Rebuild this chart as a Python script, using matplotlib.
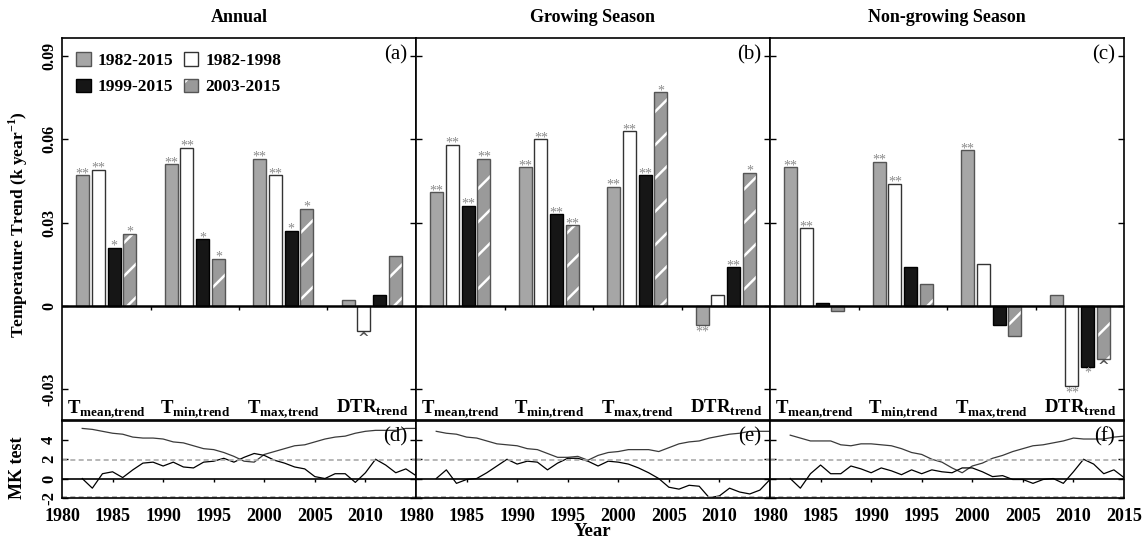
import matplotlib.pyplot as plt
import numpy as np
from matplotlib.patches import Patch

plt.rcParams['font.family'] = 'Liberation Serif'
plt.rcParams['font.weight'] = 'bold'
plt.rcParams['mathtext.fontset'] = 'custom'
plt.rcParams['mathtext.rm'] = 'Liberation Serif:bold'
plt.rcParams['mathtext.bf'] = 'Liberation Serif:bold'
plt.rcParams['hatch.linewidth'] = 1.8
plt.rcParams['axes.linewidth'] = 1.2

# ---- data ----
seasons = ['Annual', 'Growing Season', 'Non-growing Season']
periods = ['1982-2015', '1982-1998', '1999-2015', '2003-2015']
indices = [r'$\mathbf{T}_{\mathbf{mean{,}trend}}$', r'$\mathbf{T}_{\mathbf{min{,}trend}}$',
           r'$\mathbf{T}_{\mathbf{max{,}trend}}$', r'$\mathbf{DTR}_{\mathbf{trend}}$']
panel_top = ['(a)', '(b)', '(c)']
panel_mk = ['(d)', '(e)', '(f)']

# trends (k/year), rows = Tmean, Tmin, Tmax, DTR ; columns = periods
annual = [[0.047, 0.049, 0.021, 0.026],
          [0.051, 0.057, 0.024, 0.017],
          [0.053, 0.047, 0.027, 0.035],
          [0.002, -0.009, 0.004, 0.018]]
annual_sig = [['**', '**', '*', '*'],
              ['**', '**', '*', '*'],
              ['**', '**', '*', '*'],
              ['', '^', '', '']]

growing = [[0.041, 0.058, 0.036, 0.053],
           [0.050, 0.060, 0.033, 0.029],
           [0.043, 0.063, 0.047, 0.077],
           [-0.007, 0.004, 0.014, 0.048]]
growing_sig = [['**', '**', '**', '**'],
               ['**', '**', '**', '**'],
               ['**', '**', '**', '*'],
               ['**', '', '**', '*']]

nongrowing = [[0.050, 0.028, 0.001, -0.002],
              [0.052, 0.044, 0.014, 0.008],
              [0.056, 0.015, -0.007, -0.011],
              [0.004, -0.029, -0.022, -0.019]]
nongrowing_sig = [['**', '**', '', ''],
                  ['**', '**', '', ''],
                  ['**', '', '', ''],
                  ['', '**', '*', '^']]

# Mann-Kendall sequential statistics, 1982-2015
years = np.arange(1982, 2016)
annual_uf = [0, -1.0, 0.5, 0.7, 0.1, 0.9, 1.6, 1.7, 1.3, 1.7, 1.2, 1.1, 1.7, 1.8, 2.1, 1.7, 2.2,
             2.6, 2.4, 1.9, 1.6, 1.2, 1.0, 0.2, 0.0, 0.5, 0.5, -0.4, 0.6, 2.0, 1.4, 0.6, 1.0, 0.3]
annual_ub = [5.2, 5.1, 4.9, 4.7, 4.6, 4.3, 4.2, 4.2, 4.1, 3.8, 3.7, 3.4, 3.1, 3.0, 2.7, 2.3, 1.8,
             1.7, 2.5, 2.8, 3.1, 3.4, 3.5, 3.8, 4.1, 4.3, 4.4, 4.7, 4.9, 5.0, 5.0, 5.0, 5.2, 5.2]
growing_uf = [0, 0.9, -0.5, -0.1, 0, 0.6, 1.3, 2.0, 1.5, 1.8, 1.7, 0.9, 1.6, 2.1, 2.1, 1.8, 1.3,
              1.8, 1.7, 1.5, 1.1, 0.6, 0.0, -0.9, -1.1, -0.7, -0.8, -2.0, -1.8, -1.0, -1.4, -1.6, -1.2, -0.1]
growing_ub = [4.9, 4.7, 4.6, 4.3, 4.2, 3.9, 3.6, 3.5, 3.4, 3.1, 3.0, 2.6, 2.2, 2.2, 2.3, 1.9, 2.4,
              2.7, 2.8, 3.0, 3.0, 3.0, 2.8, 3.2, 3.6, 3.8, 3.9, 4.2, 4.4, 4.6, 4.7, 4.9, 4.9, 4.9]
nongrowing_uf = [0, -1.0, 0.5, 1.4, 0.5, 0.5, 1.3, 1.0, 0.6, 1.1, 0.8, 0.4, 0.9, 0.5, 0.9, 0.7, 0.6,
                 1.1, 1.1, 0.7, 0.2, 0.3, -0.1, -0.1, -0.5, -0.1, 0.0, -0.5, 0.7, 2.0, 1.5, 0.5, 0.9, 0.1]
nongrowing_ub = [4.5, 4.2, 3.9, 3.9, 3.9, 3.5, 3.4, 3.6, 3.6, 3.5, 3.4, 3.1, 2.7, 2.5, 2.0, 1.7, 1.1,
                 0.6, 1.3, 1.6, 2.1, 2.4, 2.8, 3.1, 3.4, 3.5, 3.7, 3.9, 4.2, 4.1, 4.1, 4.1, 4.3, 4.4]

trends = [annual, growing, nongrowing]
sigs = [annual_sig, growing_sig, nongrowing_sig]
mk_uf = [annual_uf, growing_uf, nongrowing_uf]
mk_ub = [annual_ub, growing_ub, nongrowing_ub]

# ---- layout ----
W, H = 1145, 543
fig = plt.figure(figsize=(W / 100, H / 100), dpi=100)


def box(x0, y0, x1, y1):
    return [x0 / W, 1 - y1 / H, (x1 - x0) / W, (y1 - y0) / H]


lefts = [62, 416, 770]
pw = 354

gray = '#a6a6a6'
hatch_gray = '#9a9a9a'
black = '#161616'
sig_color = '#8a8a8a'
offsets = (np.arange(4) - 1.5) * 0.178
bw = 0.148
group_x = np.arange(4) + 0.5

for k in range(3):
    ax = fig.add_axes(box(lefts[k], 38, lefts[k] + pw, 420))
    data = trends[k]
    for j in range(4):
        x = group_x + offsets[j]
        vals = [row[j] for row in data]
        if j == 0:
            ax.bar(x, vals, bw, color=gray, edgecolor='#555555', linewidth=1)
        elif j == 1:
            ax.bar(x, vals, bw, color='white', edgecolor='#333333', linewidth=1)
        elif j == 2:
            ax.bar(x, vals, bw, color=black, edgecolor='#000000', linewidth=1)
        else:
            ax.bar(x, vals, bw, color=hatch_gray, edgecolor='white', hatch='/', linewidth=0)
            ax.bar(x, vals, bw, fill=False, edgecolor='#555555', linewidth=1)
        for i in range(4):
            s = sigs[k][i][j]
            if not s:
                continue
            v = vals[i]
            if s == '^':
                ax.annotate(s, (x[i], v), xytext=(0, -1), textcoords='offset points',
                            ha='center', va='top', fontsize=10, fontweight='bold',
                            color='#555555', family='DejaVu Sans')
            elif v >= 0:
                ax.annotate(s, (x[i], v), xytext=(0, -1.5), textcoords='offset points',
                            ha='center', va='baseline', fontsize=10, fontweight='normal',
                            color=sig_color)
            else:
                ax.annotate(s, (x[i], v), xytext=(0, 0), textcoords='offset points',
                            ha='center', va='top', fontsize=10, fontweight='normal',
                            color=sig_color)
    ax.axhline(0, color='black', lw=1.8)
    ax.vlines([1, 2, 3], -0.0013, 0, color='black', lw=1)
    ax.set_xlim(0, 4)
    ax.set_ylim(-0.0411, 0.0965)
    ax.set_xticks([])
    ax.set_yticks([-0.03, 0, 0.03, 0.06, 0.09])
    ax.tick_params(axis='y', direction='in', left=True, right=True, length=4, width=1)
    if k == 0:
        ax.set_yticklabels(['-0.03', '0', '0.03', '0.06', '0.09'], rotation=90,
                           va='center', fontsize=11.5, fontweight='bold')
    else:
        ax.set_yticklabels([])
    for i in range(4):
        ax.text(group_x[i], 0.018, indices[i], transform=ax.get_xaxis_transform(),
                ha='center', va='baseline', fontsize=13.5)
    ax.text(0.975, 0.955, panel_top[k], transform=ax.transAxes, ha='right', va='center',
            fontsize=15, fontweight='normal')
    fig.text((lefts[k] + pw / 2) / W, 1 - 18 / H, seasons[k], ha='center', va='center',
             fontsize=13, fontweight='bold')

    if k == 0:
        h_gray = Patch(facecolor=gray, edgecolor='#555555')
        h_white = Patch(facecolor='white', edgecolor='#333333')
        h_black = Patch(facecolor=black, edgecolor='#000000')
        h_hatch = (Patch(facecolor=hatch_gray, edgecolor='white', hatch='/', linewidth=0),
                   Patch(fill=False, edgecolor='#555555'))
        ax.legend([h_gray, h_black, h_white, h_hatch],
                  [periods[0], periods[2], periods[1], periods[3]],
                  ncol=2, loc='upper left', bbox_to_anchor=(0.005, 0.995), frameon=False,
                  prop={'family': 'Liberation Serif', 'weight': 'bold', 'size': 12.5},
                  handlelength=0.85, handleheight=0.85, handletextpad=0.4,
                  columnspacing=0.6, labelspacing=0.55, borderaxespad=0.3)

    # MK test panel
    mx = fig.add_axes(box(lefts[k], 421, lefts[k] + pw, 498))
    mx.plot(years, mk_ub[k], color='#3a3a3a', lw=0.9)
    mx.plot(years, mk_uf[k], color='#000000', lw=0.9)
    mx.axhline(0, color='black', lw=1.2)
    mx.axhline(1.96, color='#aaaaaa', lw=1.2, ls=(0, (3, 2)))
    mx.axhline(-1.96, color='#aaaaaa', lw=1.2, ls=(0, (3, 2)))
    tick_years = np.arange(1985, 2015, 5)
    mx.vlines(tick_years, -0.35, 0, color='black', lw=1)
    mx.set_xlim(1980, 2015)
    mx.set_ylim(-2.02, 5.97)
    if k < 2:
        mx.set_xticks(np.arange(1980, 2015, 5))
    else:
        mx.set_xticks(np.arange(1980, 2020, 5))
    mx.tick_params(axis='x', bottom=False, labelsize=13, pad=4)
    for lab in mx.get_xticklabels():
        lab.set_fontweight('bold')
    mx.set_yticks([-2, 0, 2, 4])
    mx.tick_params(axis='y', direction='in', left=True, right=True, length=4, width=1)
    if k == 0:
        mx.set_yticklabels(['-2', '0', '2', '4'], rotation=90, va='center',
                           fontsize=12, fontweight='bold')
    else:
        mx.set_yticklabels([])
    mx.text(0.975, 0.79, panel_mk[k], transform=mx.transAxes, ha='right', va='center',
            fontsize=15, fontweight='normal')

fig.text(18 / W, 1 - 225 / H, r'Temperature Trend (k year$^{\mathbf{-1}}$)', rotation=90,
         ha='center', va='center', fontsize=12.5, fontweight='bold')
fig.text(18 / W, 1 - 468 / H, 'MK test', rotation=90, ha='center', va='center',
         fontsize=13, fontweight='bold')
fig.text(592 / W, 1 - 531 / H, 'Year', ha='center', va='center', fontsize=13.5,
         fontweight='bold')

fig.savefig('out.png', dpi=100)
